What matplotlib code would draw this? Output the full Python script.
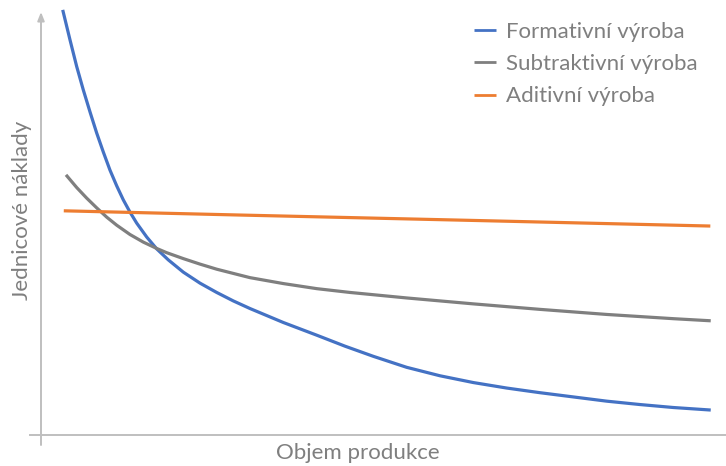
import numpy as np
import matplotlib
matplotlib.use("Agg")
from matplotlib import pyplot as plt

plt.rcParams['font.family'] = ['Lato', 'DejaVu Sans']

# Objem produkce (0-100) vs. jednicove naklady (0-100)
x_form = [3.24, 4.33, 5.33, 6.31, 7.31, 8.31, 9.30, 10.30, 11.30, 12.28, 13.28, 14.28, 15.78, 17.27,
          19.0, 21.24, 23.73, 26.22, 28.70, 31.19, 36.16, 41.15, 45.37, 49.60, 54.58, 59.55, 64.52,
          69.51, 74.48, 79.45, 84.43, 89.40, 94.37, 99.96]
y_form = [100.5, 93.4, 87.1, 81.6, 76.4, 71.4, 66.9, 62.6, 58.9, 55.6, 52.7, 50.1, 46.8, 44.0,
          41.4, 38.5, 35.9, 33.7, 31.7, 29.9, 26.6, 23.6, 21.0, 18.6, 16.0, 14.0, 12.4,
          11.1, 10.0, 9.0, 8.0, 7.2, 6.5, 5.9]

x_subt = [3.73, 5.33, 6.82, 8.31, 9.81, 11.30, 13.28, 15.27, 17.27, 18.76, 21.24, 23.73, 26.22,
          28.70, 31.19, 36.16, 41.15, 46.12, 54.58, 64.52, 74.48, 84.43, 94.37, 99.96]
y_subt = [61.5, 58.5, 56.0, 53.7, 51.5, 49.6, 47.4, 45.6, 44.1, 43.1, 41.7, 40.4, 39.2,
          38.2, 37.2, 35.8, 34.6, 33.7, 32.4, 31.0, 29.7, 28.5, 27.5, 27.0]

x_adit = [3.4, 29.7, 62.5, 99.9]
y_adit = [53.0, 52.0, 50.8, 49.4]

labels = ["Formativní výroba", "Subtraktivní výroba", "Aditivní výroba"]
colors = ["#4472C4", "#7F7F7F", "#ED7D31"]
txt = "#7F7F7F"
axis_c = "#BFBFBF"
fs = 16

W, H = 726, 466
fig = plt.figure(figsize=(W/100, H/100), dpi=100)
ax = fig.add_axes([41/W, (H-435)/H, (W-41)/W, (435-12)/H])
ax.set_xlim(0, (W-41)/6.7)
ax.set_ylim(0, 100)

for xs, ys, lab, c in zip([x_form, x_subt, x_adit], [y_form, y_subt, y_adit], labels, colors):
    ax.plot(xs, ys, color=c, lw=2.3, label=lab, solid_capstyle="butt",
            solid_joinstyle="round", clip_on=False)

for s in ax.spines.values():
    s.set_visible(False)
ax.set_xticks([])
ax.set_yticks([])

# osy: svisla se sipkou, obe lehce presahuji pocatek
ax.annotate("", xy=(0, 1.0), xytext=(0, -10/423), xycoords="axes fraction",
            arrowprops=dict(arrowstyle="-|>,head_length=0.5,head_width=0.2", color=axis_c, lw=1.4,
                            shrinkA=0, shrinkB=0))
ax.plot([-11/685, 1], [0, 0], transform=ax.transAxes, color=axis_c, lw=1.4, clip_on=False)

fig.text(22/W, 1-210/H, "Jednicové náklady", rotation=90, ha="center", va="center", color=txt, fontsize=fs)
fig.text(358/W, 1-453/H, "Objem produkce", ha="center", va="center", color=txt, fontsize=fs)

leg = fig.legend(loc="upper left", bbox_to_anchor=(474/W, 1-22/H), frameon=False, fontsize=fs,
                 handlelength=1.0, handletextpad=0.45, labelspacing=0.55, labelcolor=txt,
                 borderpad=0, borderaxespad=0)
for h in leg.legend_handles:
    h.set_linewidth(2)

fig.savefig("out.png", dpi=100)
plt.close()
